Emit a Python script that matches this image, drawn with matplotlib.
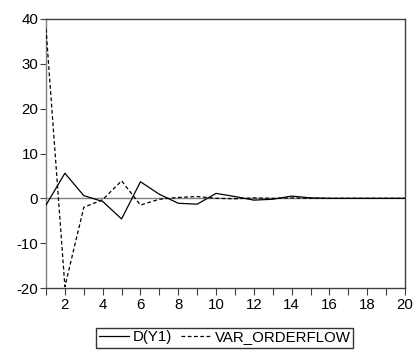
import matplotlib
matplotlib.use("Agg")
import matplotlib.pyplot as plt

periods = list(range(1, 21))
d_y1 = [-1.5, 5.6, 0.6, -0.7, -4.6, 3.7, 0.9, -1.1, -1.3, 1.1,
        0.4, -0.4, -0.2, 0.5, 0.1, 0.0, 0.0, 0.0, 0.0, 0.0]
var_orderflow = [37.8, -19.7, -2.0, -0.3, 3.9, -1.5, -0.2, 0.2, 0.4, 0.0,
                 -0.1, 0.1, 0.0, 0.1, 0.0, 0.0, 0.0, 0.0, 0.0, 0.0]
labels = ["D(Y1)", "VAR_ORDERFLOW"]

plt.rcParams['font.family'] = ['Liberation Sans', 'DejaVu Sans']
plt.rcParams['axes.unicode_minus'] = False
fig = plt.figure(figsize=(4.18, 3.51), dpi=100)
ax = fig.add_axes([46/418, 63/351, 359/418, 269/351])

ax.axhline(0, color='#808080', lw=1.0, zorder=1)
l1, = ax.plot(periods, d_y1, color='black', lw=0.9, zorder=3)
l2, = ax.plot(periods, var_orderflow, color='black', lw=0.9,
              dashes=(3, 2), zorder=3)

ax.set_xlim(1, 20)
ax.set_ylim(-20, 40)
ax.set_yticks([-20, -10, 0, 10, 20, 30, 40])
ax.set_xticks(periods, minor=False)
ax.set_xticklabels([str(p) if p % 2 == 0 else '' for p in periods])
ax.tick_params(axis='both', direction='out', length=4, width=0.8,
               color='#404040', labelsize=10.8, pad=1.5)
ax.tick_params(axis='x', length=5, pad=2)
ax.spines['left'].set_color('#808080')
ax.spines['bottom'].set_color('#404040')
ax.spines['top'].set_color('#404040')
ax.spines['right'].set_color('#404040')
for s in ax.spines.values():
    s.set_linewidth(1.0)

leg = fig.legend([l1, l2], labels, loc='center', ncol=2,
                 bbox_to_anchor=(224.5/418, (351-337.5)/351),
                 fontsize=10.8, frameon=True, fancybox=False,
                 edgecolor='black', borderpad=0.2, handlelength=2.0,
                 handletextpad=0.25, columnspacing=0.6, borderaxespad=0)
leg.get_frame().set_linewidth(1.0)

fig.savefig("out.png", dpi=100)
